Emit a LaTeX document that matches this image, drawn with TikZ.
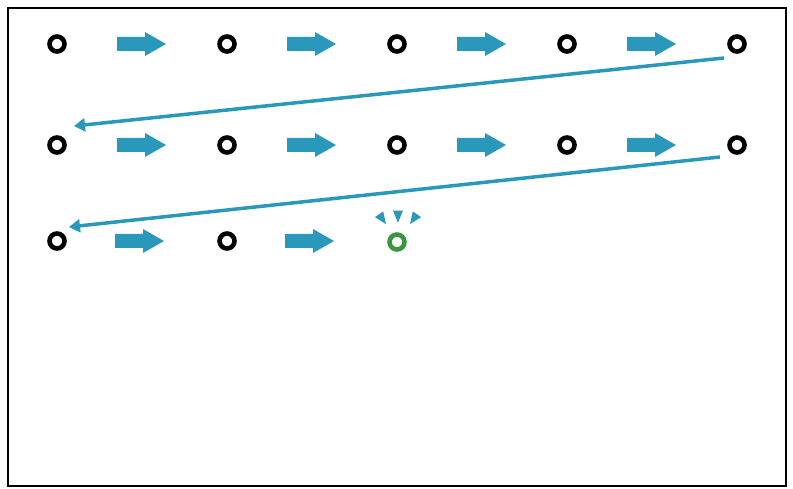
\documentclass[tikz,border=0pt]{standalone}
\usetikzlibrary{arrows.meta,shapes.geometric}
\definecolor{teal}{RGB}{41,152,186}
\definecolor{leaf}{RGB}{58,150,64}
\begin{document}
\begin{tikzpicture}[x=1pt,y=-1pt,
  dot/.style={circle,draw=black,line width=4.6pt,minimum size=15pt,inner sep=0pt},
  block/.pic={\fill[teal] (-24,-7) -- (4,-7) -- (4,-12) -- (25,0) -- (4,12) -- (4,7) -- (-24,7) -- cycle;},
  jump/.style={draw=teal,line width=3.5pt,-{Triangle[length=11pt,width=13pt]}},
  ray/.style={isosceles triangle,fill=teal,inner sep=0pt,minimum height=9pt,minimum width=10pt}]

 \useasboundingbox (0,0) rectangle (793,489);
 \draw[line width=1.2pt] (8,8) rectangle (786,486);

 \foreach \i/\x in {1/57,2/227,3/397,4/567,5/737} {
   \node[dot] (a\i) at (\x,44) {};
   \node[dot] (b\i) at (\x,145) {};
 }
 \node[dot] (c1) at (57,241) {};
 \node[dot] (c2) at (227,241) {};
 \node[dot,draw=leaf] (c3) at (397,242) {};

 \foreach \x in {141,311,481,651} {
   \pic at (\x,44) {block};
   \pic at (\x,145) {block};
 }
 \pic at (139,241) {block};
 \pic at (309,241) {block};

 \coordinate (r1) at (724,58);
 \coordinate (l1) at (74,126);
 \coordinate (r2) at (720,157);
 \coordinate (l2) at (69,227);
 \draw[jump] (r1) -- (l1);
 \draw[jump] (r2) -- (l2);

 \node[ray,rotate=-55] at (381,217) {};
 \node[ray,rotate=-90] at (398,214) {};
 \node[ray,rotate=-125] at (415,217) {};
\end{tikzpicture}
\end{document}
